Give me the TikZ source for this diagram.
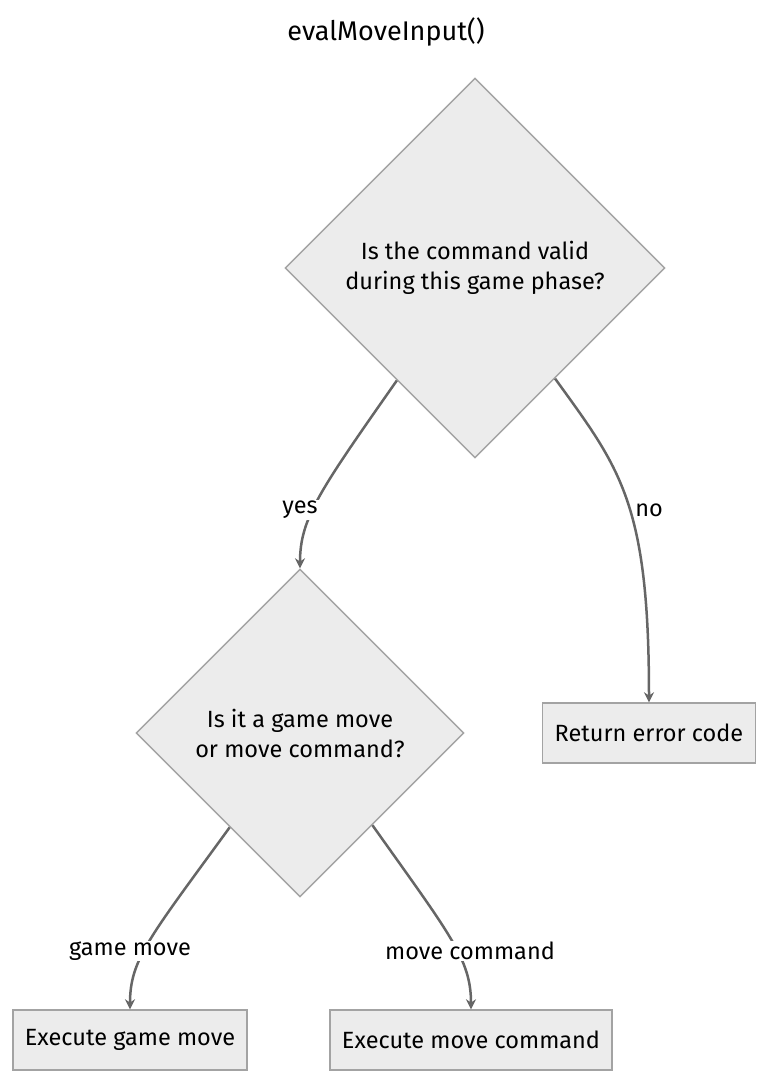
\documentclass[tikz,border=0pt]{standalone}
\usepackage{fontspec}
\setmainfont{Fira Sans}
\usetikzlibrary{positioning,shapes.geometric,calc,arrows.meta}
\definecolor{boxfill}{HTML}{ECECEC}
\definecolor{boxline}{HTML}{A3A3A3}
\definecolor{edgeline}{HTML}{666666}

\begin{document}
\begin{tikzpicture}[x=1pt,y=-1pt,
    font=\fontsize{23.5}{30}\selectfont,
    decision/.style={diamond,draw=boxline,fill=boxfill,line width=1.4pt,
        minimum width=380pt,minimum height=380pt,inner sep=0pt,align=center},
    smalldecision/.style={decision,minimum width=328pt,minimum height=328pt},
    action/.style={rectangle,draw=boxline,fill=boxfill,line width=1.4pt,
        minimum height=60pt,inner xsep=12pt},
    edge/.style={draw=edgeline,line width=2.5pt,-{Stealth[length=10pt,width=10pt]}},
    lbl/.style={fill=white,inner sep=1pt}]
		\useasboundingbox (0,0) rectangle (773,1080);
		\node[font=\fontsize{27}{32}\selectfont] (title) at (386,32) {evalMoveInput()};
		\node[decision] (d_1) at (475,268) {Is the command valid\\during this game phase?};
		\node[smalldecision] (d_2) at (300,733) {Is it a game move\\or move command?};
		\node[action] (r_0) at (649,733) {Return error code};
		\node[action] (e_0) at (130,1040) {Execute game move};
		\node[action] (e_1) at (471,1040) {Execute move command};
		\draw[edge] ($(d_1.west)!0.59!(d_1.south)$) .. controls +(-77,110) and +(0,-50) .. (d_2.north);
		\draw[edge] ($(d_1.east)!0.58!(d_1.south)$) .. controls +(65,90) and +(0,-200) .. (r_0.north);
		\draw[edge] ($(d_2.west)!0.573!(d_2.south)$) .. controls +(-80,110) and +(0,-50) .. (e_0.north);
		\draw[edge] ($(d_2.east)!0.56!(d_2.south)$) .. controls +(78,110) and +(0,-50) .. (e_1.north);
		\node[lbl] (yes) at (300,510) {yes};
		\node[lbl] (no) at (649,510) {no};
		\node[lbl] (game) at (130,951) {game move};
		\node[lbl] (cmd) at (470,951) {move command};
	\end{tikzpicture}
\end{document}
